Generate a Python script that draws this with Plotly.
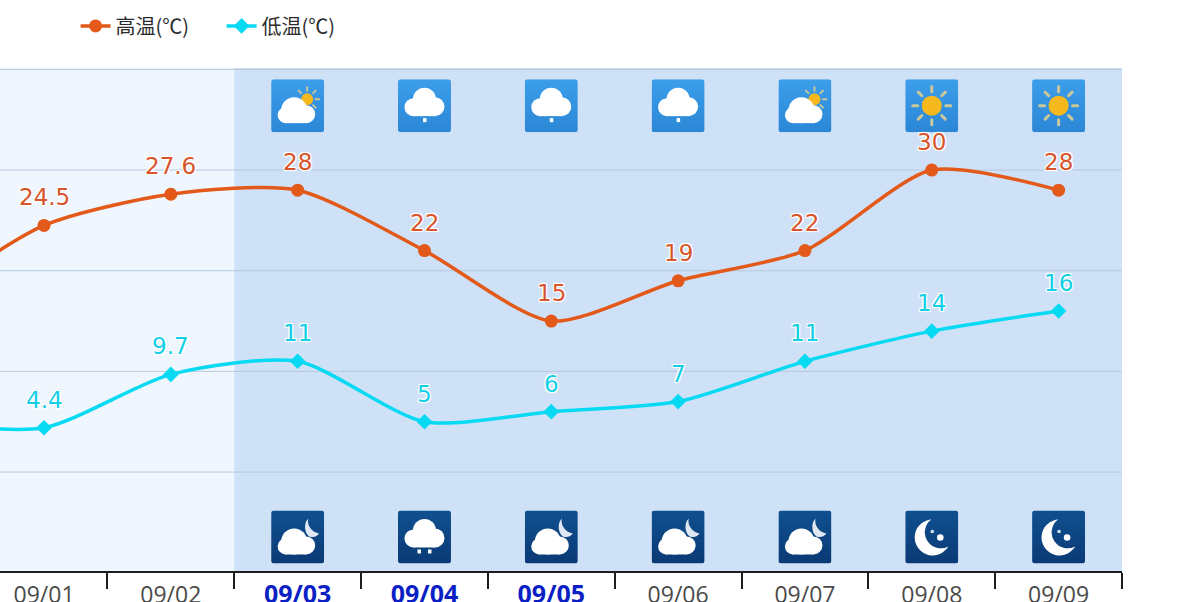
import base64
import plotly.graph_objects as go

# Data: the first entry is the day before the visible window (only its segment shows)
x_index = [-1, 0, 1, 2, 3, 4, 5, 6, 7, 8]
high_values = [16.5, 24.5, 27.6, 28, 22, 15, 19, 22, 30, 28]
low_values = [5.0, 4.4, 9.7, 11, 5, 6, 7, 11, 14, 16]
high_labels = ["", "24.5", "27.6", "28", "22", "15", "19", "22", "30", "28"]
low_labels = ["", "4.4", "9.7", "11", "5", "6", "7", "11", "14", "16"]
date_labels = ["09/01", "09/02", "09/03", "09/04", "09/05", "09/06", "09/07", "09/08", "09/09"]
forecast_dates = ["09/03", "09/04", "09/05"]
day_icons = ["partly", "rain1", "rain1", "rain1", "partly", "sun", "sun"]
night_icons = ["partly", "rain2", "partly", "partly", "partly", "moon", "moon"]
y_ticks = [0, 10, 20, 30, 40]

HIGH = "#e2591a"
LOW = "#06d9f2"
HIGH_TEXT = "#d8542c"
LOW_TEXT = "#12cfe6"


def circles(items):
    return "".join(f'<circle cx="{a}" cy="{b}" r="{c}" fill="#fff"/>' for a, b, c in items)


def cloud(kind):
    if kind == "full":
        return circles([(26.5, 20, 11.5), (15.5, 28, 9), (37, 27.5, 9.5)]) + '<rect x="15" y="24" width="22" height="13" fill="#fff"/>'
    return circles([(23, 31, 13), (14.5, 36, 8), (35, 35, 9)]) + '<rect x="14" y="32" width="21" height="12" fill="#fff"/>'


def sun(cx, cy, r, ray_in, ray_out, w):
    rays = ""
    dirs = [(1, 0), (0.71, 0.71), (0, 1), (-0.71, 0.71), (-1, 0), (-0.71, -0.71), (0, -1), (0.71, -0.71)]
    for dx, dy in dirs:
        rays += (f'<line x1="{cx + dx * ray_in:.1f}" y1="{cy + dy * ray_in:.1f}" '
                 f'x2="{cx + dx * ray_out:.1f}" y2="{cy + dy * ray_out:.1f}" '
                 f'stroke="#c9c79c" stroke-width="{w}" stroke-linecap="round"/>')
    return rays + f'<circle cx="{cx}" cy="{cy}" r="{r}" fill="#f6b91d"/>'


def icon(kind, night):
    stops = ("#10508f", "#0a3a75") if night else ("#3c9eea", "#2b87d6")
    body = ""
    if kind == "sun":
        body = sun(26.5, 26.5, 10, 14, 19, 3)
    elif kind == "moon":
        body = ('<path d="M26 9 a18 18 0 1 0 17 27 a16 16 0 0 1 -17 -27 Z" fill="#fff"/>'
                '<circle cx="35" cy="27" r="3.300" fill="#fff"/><circle cx="27" cy="21" r="1.800" fill="#cfe0f2"/>')
    elif kind == "partly":
        if night:
            body = ('<path d="M37 8 a13 13 0 0 0 1 18 a9 9 0 0 0 10 -3 a13 13 0 0 1 -11 -15 Z" fill="#dfe8f2"/>' + cloud("p"))
        else:
            body = sun(36, 20, 6, 8.5, 12, 2) + cloud("p")
    elif kind == "rain1":
        body = cloud("full") + '<rect x="25" y="39" width="3.500" height="4" fill="#fff"/>'
    elif kind == "rain2":
        body = cloud("full") + '<rect x="19.500" y="39" width="3.500" height="4" fill="#fff"/><rect x="30" y="39" width="3.500" height="4" fill="#fff"/>'
    svg = ('<svg xmlns="http://www.w3.org/2000/svg" width="53" height="53" viewBox="0 0 53 53">'
           f'<defs><linearGradient id="g" x1="0" y1="0" x2="0" y2="1"><stop offset="0" stop-color="{stops[0]}"/>'
           f'<stop offset="1" stop-color="{stops[1]}"/></linearGradient></defs>'
           f'<rect width="53" height="53" rx="3" fill="url(#g)"/>{body}</svg>')
    return "data:image/svg+xml;base64," + base64.b64encode(svg.encode()).decode()


HALO = "-1px -1px 0 #fff, 1px -1px 0 #fff, -1px 1px 0 #fff, 1px 1px 0 #fff, 0 0 3px #fff"
LABEL_FONT = "DejaVu Sans"

fig = go.Figure()
fig.add_trace(go.Scatter(x=x_index, y=high_values, name="高温(℃)", mode="lines+markers",
                         line=dict(color=HIGH, width=3.5, shape="spline", smoothing=0.72),
                         marker=dict(color=HIGH, size=13, symbol="circle"), hoverinfo="skip"))
fig.add_trace(go.Scatter(x=x_index, y=low_values, name="低温(℃)", mode="lines+markers",
                         line=dict(color=LOW, width=3.5, shape="spline", smoothing=0.72),
                         marker=dict(color=LOW, size=12, symbol="diamond"), hoverinfo="skip"))

annotations = []
for xs, ys, labels, color in ((x_index, high_values, high_labels, HIGH_TEXT),
                              (x_index, low_values, low_labels, LOW_TEXT)):
    for xv, yv, label in zip(xs, ys, labels):
        if label:
            annotations.append(dict(x=xv, y=yv, xref="x", yref="y", text=label, showarrow=False,
                                    yshift=28, font=dict(family=LABEL_FONT, size=23, color=color, shadow=HALO)))

images = []
for i, (d, n) in enumerate(zip(day_icons, night_icons)):
    images.append(dict(source=icon(d, False), xref="x", yref="y", x=i + 2, y=36.4, sizex=0.418, sizey=5.26,
                       xanchor="center", yanchor="middle", sizing="stretch", layer="above"))
    images.append(dict(source=icon(n, True), xref="x", yref="y", x=i + 2, y=-6.45, sizex=0.418, sizey=5.26,
                       xanchor="center", yanchor="middle", sizing="stretch", layer="above"))

shapes = [
    dict(type="rect", xref="x", yref="y domain", x0=-0.347, x1=1.5, y0=0, y1=1, fillcolor="#eff6fe", line_width=0, layer="below"),
    dict(type="rect", xref="x", yref="y domain", x0=1.5, x1=8.5, y0=0, y1=1, fillcolor="#cfe1f7", line_width=0, layer="below"),
]
for t in y_ticks:
    shapes.append(dict(type="line", xref="x", yref="y", x0=-0.347, x1=8.5, y0=t, y1=t,
                       line=dict(color="#b5c9dc", width=1), layer="below"))

tick_text = [f'<b><span style="color:#0a1fc4;font-size:25px">{d}</span></b>' if d in forecast_dates else d
             for d in date_labels]

fig.update_layout(
    width=1200, height=602, autosize=False,
    margin=dict(l=0, r=78, t=68, b=31, pad=0),
    paper_bgcolor="#ffffff", plot_bgcolor="rgba(0,0,0,0)",
    font=dict(family="Noto Sans CJK SC", color="#333333"),
    shapes=shapes, images=images, annotations=annotations,
    showlegend=True,
    legend=dict(orientation="h", xref="container", yref="container", x=0.063, y=0.957,
                xanchor="left", yanchor="middle",
                font=dict(size=20, color="#2b2b2b", family="Noto Sans CJK SC"),
                bgcolor="rgba(0,0,0,0)", traceorder="normal", itemwidth=30,
                entrywidth=101, entrywidthmode="pixels"),
    xaxis=dict(range=[-0.347, 8.5], tickmode="array", tickvals=list(range(9)), ticktext=tick_text,
               ticks="", showgrid=False, zeroline=False, showline=True, linecolor="#1d1d1d", linewidth=2,
               tickfont=dict(family="Open Sans", size=23, color="#4a4a4a"), automargin=False,
               minor=dict(tickmode="array", tickvals=[0.5 + i for i in range(9)], ticks="outside",
                          ticklen=16, tickwidth=2, tickcolor="#1d1d1d", showgrid=False),
               ticklabelstandoff=2),
    yaxis=dict(range=[-9.83, 40.14], tickvals=y_ticks, showticklabels=False, ticks="", showgrid=False,
               zeroline=False, showline=False, automargin=False),
)
fig.write_html("out.html", config={"displayModeBar": False},
               post_script="document.body.style.margin='0';document.documentElement.style.overflow='hidden';")
